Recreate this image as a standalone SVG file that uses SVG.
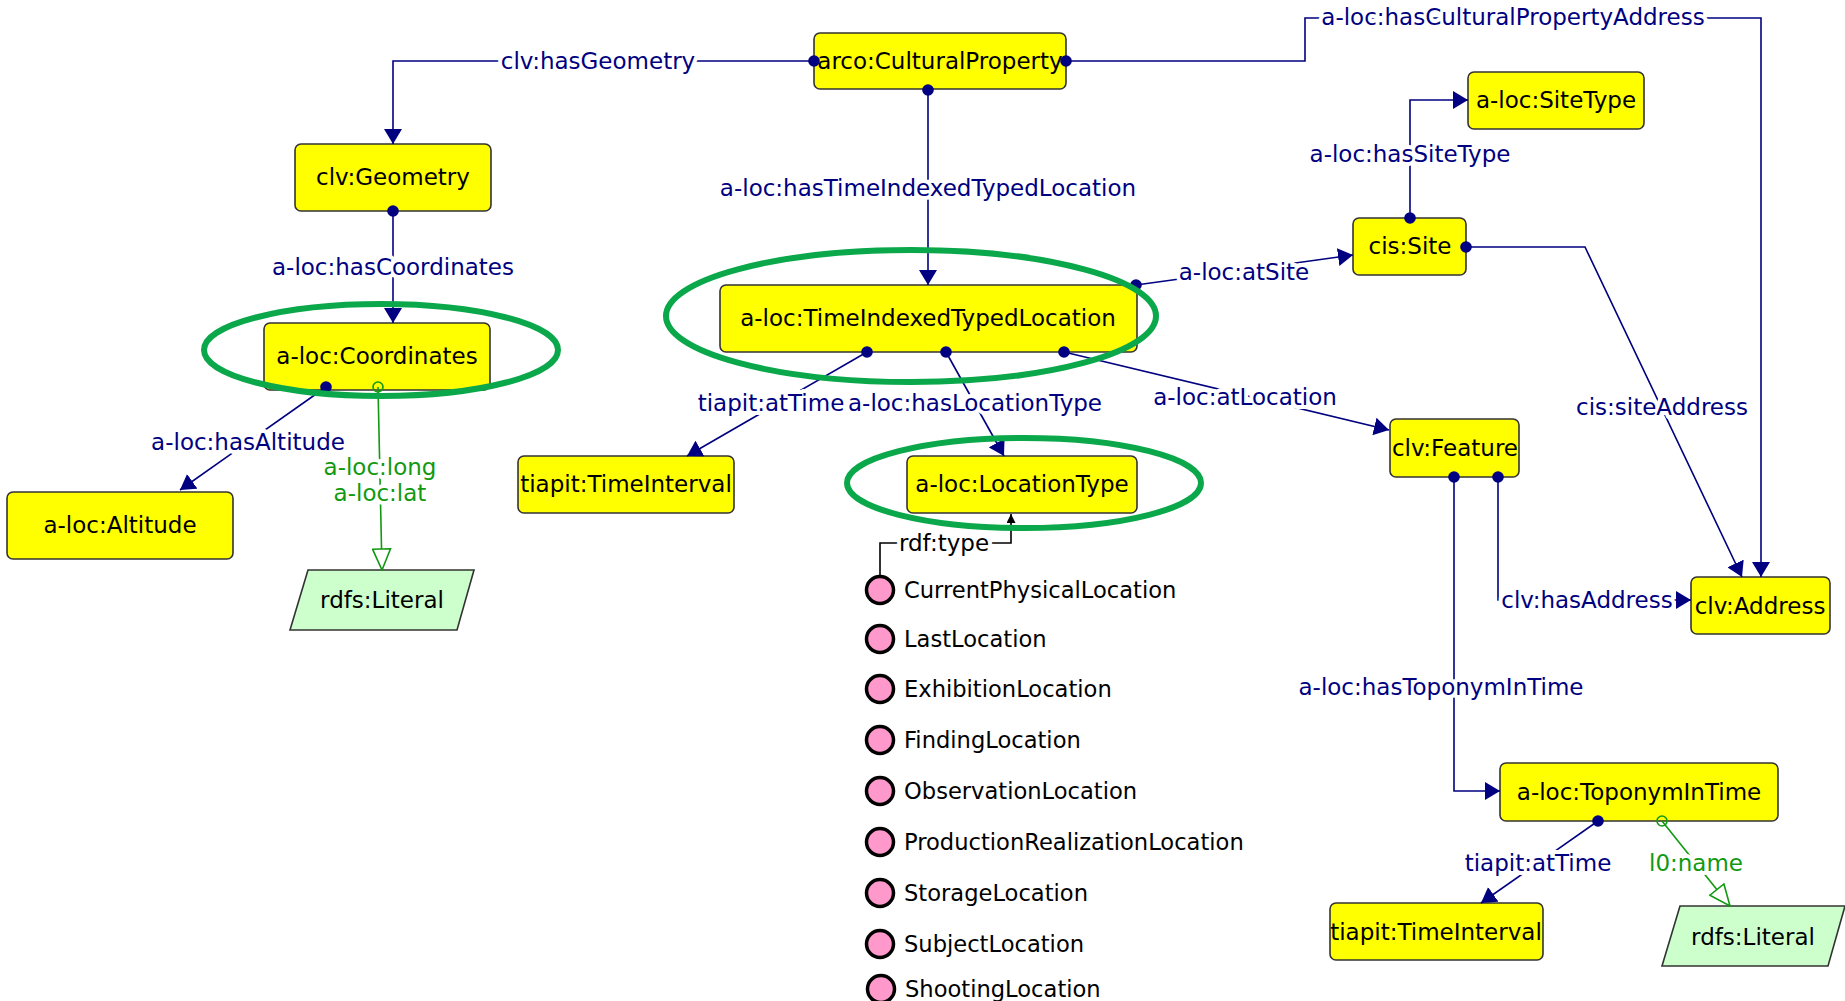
<svg xmlns="http://www.w3.org/2000/svg" width="1845" height="1001" viewBox="0 0 1845 1001">
<style>
text{font-family:"DejaVu Sans","Noto Sans",sans-serif;font-size:23px}
.node rect{fill:#ffff00;stroke:#333;stroke-width:1.6}
.lit polygon{fill:#ccffcc;stroke:#333;stroke-width:1.6}
.nt{fill:#000;text-anchor:middle}
.e{fill:none;stroke:#000080;stroke-width:1.6}
.g{fill:none;stroke:#119911;stroke-width:1.6}
.lb{fill:#000080;text-anchor:middle;stroke:#fff;stroke-width:8;paint-order:stroke;stroke-linejoin:round}
.lg{fill:#119911;text-anchor:middle;stroke:#fff;stroke-width:8;paint-order:stroke;stroke-linejoin:round}
.ind circle{fill:#ff99cc;stroke:#000;stroke-width:3.5}
.ind text{fill:#000;font-size:22.6px}
.hl{fill:none;stroke:#0aa84a;stroke-width:6}
</style>
<defs>
<marker id="arr" viewBox="0 0 15 18" refX="15" refY="9" markerWidth="15" markerHeight="18" orient="auto" markerUnits="userSpaceOnUse"><path d="M0,0 L15,9 L0,18 z" fill="#000080"/></marker>
<marker id="harr" viewBox="-1 -1 23 20" refX="21" refY="9" markerWidth="23" markerHeight="20" orient="auto" markerUnits="userSpaceOnUse"><path d="M0,0 L21,9 L0,18 z" fill="#fff" stroke="#119911" stroke-width="1.6"/></marker>
<marker id="sarr" viewBox="0 0 9 9" refX="9" refY="4.5" markerWidth="9" markerHeight="9" orient="auto" markerUnits="userSpaceOnUse"><path d="M0,0 L9,4.5 L0,9 z" fill="#000"/></marker>
<marker id="dot" viewBox="-7 -7 14 14" refX="0" refY="0" markerWidth="14" markerHeight="14" markerUnits="userSpaceOnUse"><circle r="5.8" fill="#000080"/></marker>
<marker id="odot" viewBox="-7 -7 14 14" refX="0" refY="0" markerWidth="14" markerHeight="14" markerUnits="userSpaceOnUse"><circle r="5" fill="none" stroke="#119911" stroke-width="1.6"/></marker>
</defs>
<g id="n-culturalproperty" class="node"><rect x="814" y="33" width="252" height="56" rx="6"/><text class="nt" x="940" y="69">arco:CulturalProperty</text></g>
<g id="n-geometry" class="node"><rect x="295" y="144" width="196" height="67" rx="6"/><text class="nt" x="393" y="185">clv:Geometry</text></g>
<g id="n-coordinates" class="node"><rect x="264" y="323" width="226" height="67" rx="6"/><text class="nt" x="377" y="364">a-loc:Coordinates</text></g>
<g id="n-altitude" class="node"><rect x="7" y="492" width="226" height="67" rx="6"/><text class="nt" x="120" y="533">a-loc:Altitude</text></g>
<g id="n-literal1" class="lit"><polygon points="308,570 474,570 457,630 290,630"/><text class="nt" x="382" y="608">rdfs:Literal</text></g>
<g id="n-timeinterval1" class="node"><rect x="518" y="456" width="216" height="57" rx="6"/><text class="nt" x="626" y="492">tiapit:TimeInterval</text></g>
<g id="n-titl" class="node"><rect x="720" y="285" width="417" height="67" rx="6"/><text class="nt" x="928" y="326">a-loc:TimeIndexedTypedLocation</text></g>
<g id="n-locationtype" class="node"><rect x="907" y="456" width="230" height="57" rx="6"/><text class="nt" x="1022" y="492">a-loc:LocationType</text></g>
<g id="n-sitetype" class="node"><rect x="1468" y="72" width="176" height="57" rx="6"/><text class="nt" x="1556" y="108">a-loc:SiteType</text></g>
<g id="n-site" class="node"><rect x="1353" y="218" width="113" height="57" rx="6"/><text class="nt" x="1410" y="254">cis:Site</text></g>
<g id="n-feature" class="node"><rect x="1390" y="419" width="129" height="58" rx="6"/><text class="nt" x="1455" y="456">clv:Feature</text></g>
<g id="n-address" class="node"><rect x="1691" y="577" width="139" height="57" rx="6"/><text class="nt" x="1760" y="614">clv:Address</text></g>
<g id="n-toponym" class="node"><rect x="1500" y="763" width="278" height="58" rx="6"/><text class="nt" x="1639" y="800">a-loc:ToponymInTime</text></g>
<g id="n-timeinterval2" class="node"><rect x="1330" y="903" width="213" height="57" rx="6"/><text class="nt" x="1436" y="940">tiapit:TimeInterval</text></g>
<g id="n-literal2" class="lit"><polygon points="1680,906 1845,906 1828,966 1662,966"/><text class="nt" x="1753" y="945">rdfs:Literal</text></g>
<g id="individuals" class="ind">
<g id="i-current"><circle cx="880" cy="590" r="13.5"/><text x="904" y="598">CurrentPhysicalLocation</text></g>
<g id="i-last"><circle cx="880" cy="639" r="13.5"/><text x="904" y="647">LastLocation</text></g>
<g id="i-exhibition"><circle cx="880" cy="689" r="13.5"/><text x="904" y="697">ExhibitionLocation</text></g>
<g id="i-finding"><circle cx="880" cy="740" r="13.5"/><text x="904" y="748">FindingLocation</text></g>
<g id="i-observation"><circle cx="880" cy="791" r="13.5"/><text x="904" y="799">ObservationLocation</text></g>
<g id="i-production"><circle cx="880" cy="842" r="13.5"/><text x="904" y="850">ProductionRealizationLocation</text></g>
<g id="i-storage"><circle cx="880" cy="893" r="13.5"/><text x="904" y="901">StorageLocation</text></g>
<g id="i-subject"><circle cx="880" cy="944" r="13.5"/><text x="904" y="952">SubjectLocation</text></g>
<g id="i-shooting"><circle cx="881" cy="989" r="13.5"/><text x="905" y="997">ShootingLocation</text></g>
</g>
<g id="connectors">
<path class="e" d="M814,61 H393 V144" marker-start="url(#dot)" marker-end="url(#arr)"/>
<path class="e" d="M1066,61 H1305 V18 H1761 V577" marker-start="url(#dot)" marker-end="url(#arr)"/>
<path class="e" d="M928,90 V285" marker-start="url(#dot)" marker-end="url(#arr)"/>
<path class="e" d="M393,211 V323" marker-start="url(#dot)" marker-end="url(#arr)"/>
<path class="e" d="M326,387 L180,490" marker-start="url(#dot)" marker-end="url(#arr)"/>
<path class="g" d="M378,387 L382,570" marker-start="url(#odot)" marker-end="url(#harr)"/>
<path class="e" d="M867,352 L687,456" marker-start="url(#dot)" marker-end="url(#arr)"/>
<path class="e" d="M946,352 L1004,456" marker-start="url(#dot)" marker-end="url(#arr)"/>
<path class="e" d="M1064,352 L1389,430" marker-start="url(#dot)" marker-end="url(#arr)"/>
<path class="e" d="M1136,285 L1353,255" marker-start="url(#dot)" marker-end="url(#arr)"/>
<path class="e" d="M1410,218 V100 H1468" marker-start="url(#dot)" marker-end="url(#arr)"/>
<path class="e" d="M1466,247 H1585 L1742,577" marker-start="url(#dot)" marker-end="url(#arr)"/>
<path class="e" d="M1498,477 V600 H1691" marker-start="url(#dot)" marker-end="url(#arr)"/>
<path class="e" d="M1454,477 V791 H1500" marker-start="url(#dot)" marker-end="url(#arr)"/>
<path class="e" d="M1598,821 L1481,903" marker-start="url(#dot)" marker-end="url(#arr)"/>
<path class="g" d="M1662,821 L1730,906" marker-start="url(#odot)" marker-end="url(#harr)"/>
<path d="M880,575 V543 H1011 V514" fill="none" stroke="#000" stroke-width="1.6" marker-end="url(#sarr)"/>
<text class="lb" x="598" y="69">clv:hasGeometry</text>
<text class="lb" x="1513" y="25">a-loc:hasCulturalPropertyAddress</text>
<text class="lb" x="928" y="196">a-loc:hasTimeIndexedTypedLocation</text>
<text class="lb" x="393" y="275">a-loc:hasCoordinates</text>
<text class="lb" x="248" y="450">a-loc:hasAltitude</text>
<text class="lg" x="380" y="475">a-loc:long</text>
<text class="lg" x="380" y="501">a-loc:lat</text>
<text class="lb" x="771" y="411">tiapit:atTime</text>
<text class="lb" x="975" y="411">a-loc:hasLocationType</text>
<text class="lb" x="1245" y="405">a-loc:atLocation</text>
<text class="lb" x="1244" y="280">a-loc:atSite</text>
<text class="lb" x="1410" y="162">a-loc:hasSiteType</text>
<text class="lb" x="1662" y="415">cis:siteAddress</text>
<text class="lb" x="1587" y="608">clv:hasAddress</text>
<text class="lb" x="1441" y="695">a-loc:hasToponymInTime</text>
<text class="lb" x="1538" y="871">tiapit:atTime</text>
<text class="lg" x="1696" y="871">l0:name</text>
<text x="944" y="551" text-anchor="middle" fill="#000" stroke="#fff" stroke-width="8" paint-order="stroke">rdf:type</text>
</g>
<g id="highlights">
<ellipse class="hl" cx="381" cy="350" rx="177" ry="46"/>
<ellipse class="hl" cx="911" cy="316" rx="245" ry="66"/>
<ellipse class="hl" cx="1024" cy="483" rx="177" ry="45"/>
</g>
</svg>
